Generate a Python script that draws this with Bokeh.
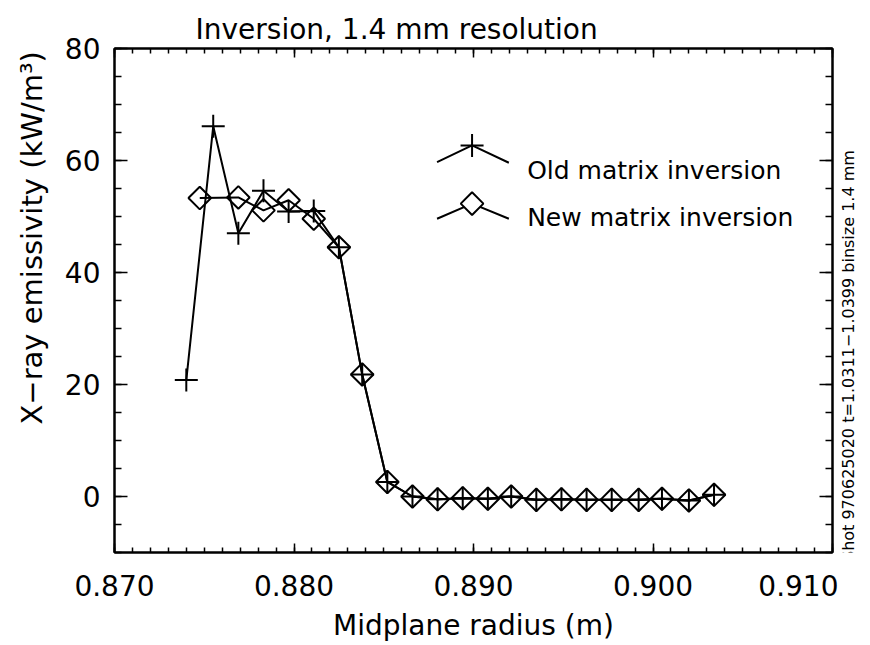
import numpy as np
from bokeh.plotting import figure
from bokeh.layouts import row
from bokeh.models import (FixedTicker, NumeralTickFormatter, LinearAxis, Label,
                          CustomJSTickFormatter, Range1d, Title)
from bokeh.embed import file_html
from bokeh.resources import INLINE

# ---------------- data ----------------
old_x = [0.8740, 0.8755, 0.8769, 0.8783, 0.8797, 0.8811, 0.8825, 0.8838,
         0.8852, 0.8866, 0.8880, 0.8894, 0.8908, 0.8921, 0.8935, 0.8949,
         0.8963, 0.8977, 0.8992, 0.9005, 0.9020, 0.9034]
old_y = [20.8, 66.1, 47.0, 54.6, 50.9, 51.0, 44.5, 21.8,
         2.6, 0.0, -0.5, -0.3, -0.4, 0.0, -0.6, -0.5,
         -0.6, -0.6, -0.6, -0.4, -0.7, 0.3]

new_x = [0.87475, 0.8769, 0.8783, 0.8797, 0.8811, 0.8825, 0.8838,
         0.8852, 0.8866, 0.8880, 0.8894, 0.8908, 0.8921, 0.8935, 0.8949,
         0.8963, 0.8977, 0.8992, 0.9005, 0.9020, 0.9034]
new_y = [53.3, 53.4, 51.1, 52.9, 49.6, 44.5, 21.8,
         2.6, 0.0, -0.5, -0.3, -0.4, 0.0, -0.6, -0.5,
         -0.6, -0.6, -0.6, -0.4, -0.7, 0.3]

x_ticks = [0.870, 0.880, 0.890, 0.900, 0.910]
y_ticks = [0, 20, 40, 60, 80]

title_text = "Inversion, 1.4 mm resolution"
x_label = "Midplane radius (m)"
y_label = "X\u2212ray emissivity (kW/m\u00b3)"
legend_labels = ["Old matrix inversion", "New matrix inversion"]
side_note = "Shot 970625020 t=1.0311\u22121.0399 binsize 1.4 mm"

FONT = "DejaVu Sans"

# ---------------- main figure ----------------
p = figure(width=838, height=645, x_range=Range1d(0.870, 0.910),
           y_range=Range1d(-10, 80), output_backend="svg",
           toolbar_location=None, min_border_left=114, min_border_right=6,
           min_border_top=48, min_border_bottom=93)
p.xgrid.visible = False
p.ygrid.visible = False
p.outline_line_color = "black"
p.outline_line_width = 2
p.background_fill_color = "white"
p.border_fill_color = "white"

p.title.text = title_text
p.title.text_font = FONT
p.title.text_font_size = "28px"
p.title.text_font_style = "normal"
p.title.text_color = "black"
p.title.align = "left"
p.title.offset = 81
p.title.standoff = 6

x_minor = [round(v, 4) for v in np.arange(0.870, 0.9101, 0.001)]
y_minor = list(range(-10, 81, 5))

xt = FixedTicker(ticks=x_ticks, minor_ticks=x_minor)
yt = FixedTicker(ticks=y_ticks, minor_ticks=y_minor)


def style_axis(ax, horizontal, labels=True):
    ax.axis_line_color = "black"
    ax.axis_line_width = 2
    ax.major_tick_line_color = "black"
    ax.minor_tick_line_color = "black"
    ax.major_tick_line_width = 1.5
    ax.minor_tick_line_width = 1.5
    ax.major_tick_out = 0
    ax.minor_tick_out = 0
    if horizontal:
        ax.major_tick_in = 9
        ax.minor_tick_in = 5
    else:
        ax.major_tick_in = 13
        ax.minor_tick_in = 7
    ax.major_label_text_font = FONT
    ax.major_label_text_font_size = "28px"
    ax.major_label_text_color = "black"
    if not labels:
        ax.formatter = CustomJSTickFormatter(code="return ''")
        ax.major_label_text_font_size = "1px"
        ax.major_label_standoff = 0


xa = p.xaxis[0]
xa.ticker = xt
xa.formatter = NumeralTickFormatter(format="0.000")
style_axis(xa, True)
xa.major_label_standoff = 22
xa.axis_label = x_label
xa.axis_label_text_font = FONT
xa.axis_label_text_font_size = "28px"
xa.axis_label_text_font_style = "normal"
xa.axis_label_text_color = "black"
xa.axis_label_standoff = 10

ya = p.yaxis[0]
ya.ticker = yt
style_axis(ya, False)
ya.major_label_standoff = 14

top = LinearAxis(ticker=FixedTicker(ticks=x_ticks, minor_ticks=x_minor))
style_axis(top, True, labels=False)
p.add_layout(top, "above")
right = LinearAxis(ticker=FixedTicker(ticks=y_ticks, minor_ticks=y_minor))
style_axis(right, False, labels=False)
p.add_layout(right, "right")

# y axis title placed as a side title so it can sit off-centre like the original
ytitle = Title(text=y_label, text_font=FONT, text_font_size="29px",
               text_font_style="normal", text_color="black",
               align="left", offset=128, standoff=25)
p.add_layout(ytitle, "left")

# ---------------- series ----------------
p.line(old_x, old_y, line_color="black", line_width=2)
p.scatter(old_x, old_y, marker="cross", size=23, line_color="black", line_width=2)
p.line(new_x, new_y, line_color="black", line_width=2)
p.scatter(new_x, new_y, marker="square", size=16, angle=np.pi / 4,
          line_color="black", line_width=2, fill_color=None)

# ---------------- legend (IDL style) ----------------
lx = [0.88797, 0.88992, 0.89197]
leg1_y = [59.7, 62.7, 59.6]
leg2_y = [49.6, 52.3, 49.6]
p.line(lx, leg1_y, line_color="black", line_width=2)
p.scatter([lx[1]], [leg1_y[1]], marker="cross", size=23, line_color="black", line_width=2)
p.line(lx, leg2_y, line_color="black", line_width=2)
p.scatter([lx[1]], [leg2_y[1]], marker="square", size=16, angle=np.pi / 4,
          line_color="black", line_width=2, fill_color="white")
for txt, yy in zip(legend_labels, [58.2, 49.9]):
    p.add_layout(Label(x=0.89299, y=yy, text=txt, text_font=FONT,
                       text_font_size="25px", text_color="black",
                       text_align="left", text_baseline="alphabetic"))

# ---------------- narrow strip for the vertical side note ----------------
s = figure(width=32, height=645, x_range=Range1d(0, 32), y_range=Range1d(0, 645),
           output_backend="svg", toolbar_location=None, min_border=0,
           x_axis_location=None, y_axis_location=None, title=None)
s.xgrid.visible = False
s.ygrid.visible = False
s.outline_line_color = None
s.background_fill_color = "white"
s.border_fill_color = "white"
s.add_layout(Label(x=10, y=252, text=side_note, text_font=FONT,
                   text_font_size="16px", text_color="black", angle=np.pi / 2,
                   text_align="center", text_baseline="middle"))

layout = row(p, s)
open("out.html", "w").write(file_html(layout, INLINE))
